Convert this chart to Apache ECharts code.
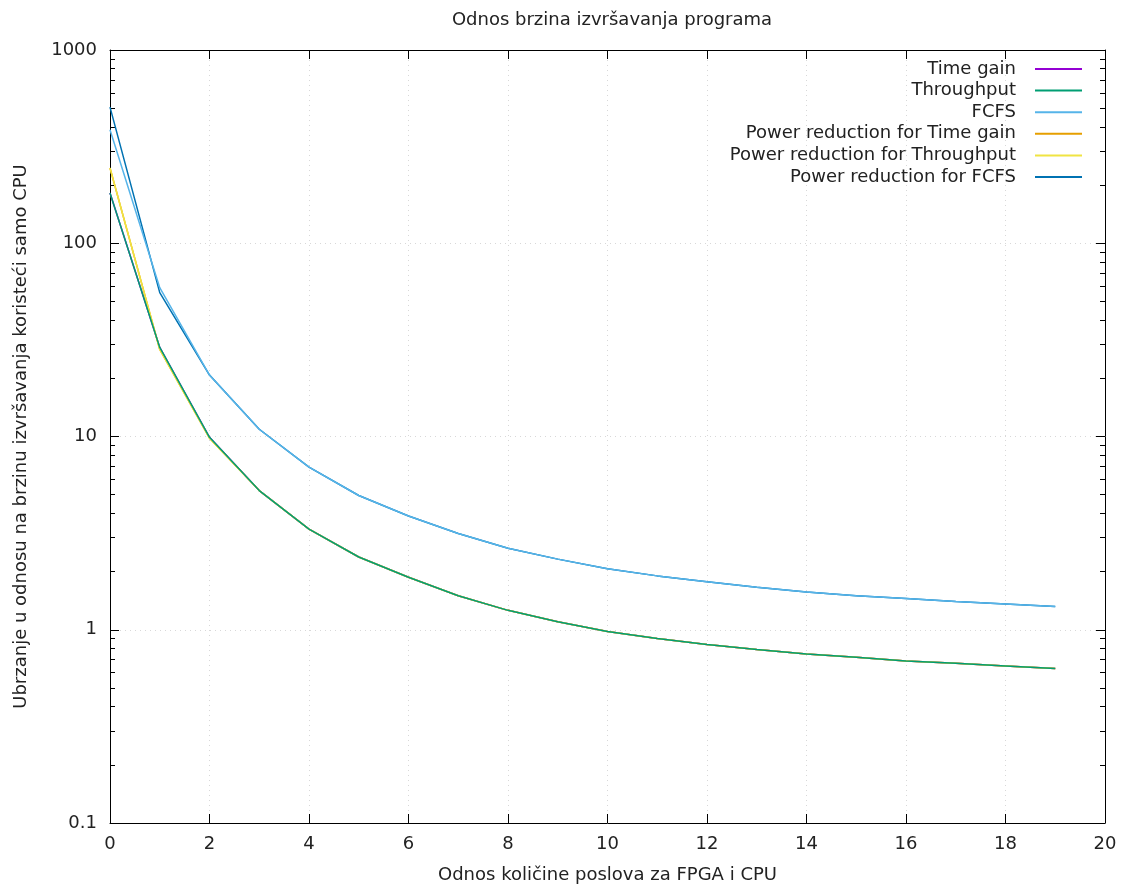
<!DOCTYPE html>
<html>
<head>
<meta charset="utf-8">
<script src="https://cdn.jsdelivr.net/npm/echarts@6/dist/echarts.min.js"></script>
<style>html,body{margin:0;padding:0;background:#fff}#c{width:1124px;height:889px}</style>
</head>
<body>
<div id="c"></div>
<script>
const xValues = [0,1,2,3,4,5,6,7,8,9,10,11,12,13,14,15,16,17,18,19];
const timeGain = [182,28.9,9.9,5.25,3.32,2.38,1.87,1.50,1.26,1.10,0.98,0.90,0.84,0.79,0.75,0.72,0.69,0.67,0.65,0.63];
const throughput = [182,28.9,9.9,5.25,3.32,2.38,1.87,1.50,1.26,1.10,0.98,0.90,0.84,0.79,0.75,0.72,0.69,0.67,0.65,0.63];
const fcfs = [387,58.9,20.8,10.9,6.95,4.95,3.88,3.15,2.64,2.32,2.07,1.90,1.77,1.66,1.57,1.50,1.45,1.40,1.36,1.32];
const prTimeGain = [245,28.2,9.8,5.25,3.32,2.38,1.87,1.50,1.26,1.10,0.98,0.90,0.84,0.79,0.75,0.72,0.69,0.67,0.65,0.63];
const prThroughput = [245,28.2,9.8,5.25,3.32,2.38,1.87,1.50,1.26,1.10,0.98,0.90,0.84,0.79,0.75,0.72,0.69,0.67,0.65,0.63];
const prFcfs = [506,55.5,20.8,10.9,6.95,4.95,3.88,3.15,2.64,2.32,2.07,1.90,1.77,1.66,1.57,1.50,1.45,1.40,1.36,1.32];
const seriesNames = ['Time gain','Throughput','FCFS','Power reduction for Time gain','Power reduction for Throughput','Power reduction for FCFS'];
const seriesColors = ['#9400d3','#009e73','#56b4e9','#e69f00','#f0e442','#0072b2'];
const seriesZ = [2,6,5,3,4,1];
const allSeries = [timeGain, throughput, fcfs, prTimeGain, prThroughput, prFcfs];

const FONT = 'DejaVu Sans';
const FS = 18;
const chart = echarts.init(document.getElementById('c'), null, {renderer:'canvas'});
const mkX = (pos, show) => ({
  type:'value', position:pos, min:0, max:20, interval:2,
  axisLine:{show:true, onZero:false, lineStyle:{color:'#000', width:1}},
  axisTick:{show:true, inside:true, length:9, lineStyle:{color:'#000'}},
  axisLabel:{show:show, color:'#222', fontFamily:FONT, fontSize:FS, margin:12},
  splitLine:{show:show, lineStyle:{color:'#d8d8d8', type:[1,4], width:1}},
  name: show ? 'Odnos količine poslova za FPGA i CPU' : '',
  nameLocation:'middle', nameGap:43,
  nameTextStyle:{color:'#222', fontFamily:FONT, fontSize:FS}
});
const mkY = (pos, show) => ({
  type:'log', logBase:10, position:pos, min:0.1, max:1000,
  axisLine:{show:true, onZero:false, lineStyle:{color:'#000', width:1}},
  axisTick:{show:true, inside:true, length:9, lineStyle:{color:'#000'}},
  minorTick:{show:true, splitNumber:9, length:5, lineStyle:{color:'#000'}},
  axisLabel:{show:show, color:'#222', fontFamily:FONT, fontSize:FS, margin:13,
    formatter: v => String(Number(v.toPrecision(6)))},
  splitLine:{show:show, lineStyle:{color:'#d8d8d8', type:[1,4], width:1}},
  name: show ? 'Ubrzanje u odnosu na brzinu izvršavanja koristeći samo CPU' : '',
  nameLocation:'middle', nameGap:80, nameRotate:90,
  nameTextStyle:{color:'#222', fontFamily:FONT, fontSize:FS}
});
chart.setOption({
  animation:false,
  backgroundColor:'#fff',
  title:{text:'Odnos brzina izvršavanja programa', left:607, textAlign:'center', top:6,
    textStyle:{color:'#222', fontFamily:FONT, fontSize:FS, fontWeight:'normal'}},
  grid:{left:110, right:19, top:50, bottom:64},
  legend:{
    orient:'vertical', right:37, top:55, align:'right',
    itemWidth:47, itemHeight:2, itemGap:3.6, icon:'rect',
    textStyle:{color:'#222', fontFamily:FONT, fontSize:FS, lineHeight:18, padding:[0,14,0,0]},
    data:seriesNames
  },
  xAxis:[mkX('bottom', true), mkX('top', false)],
  yAxis:[mkY('left', true), mkY('right', false)],
  series: allSeries.map((arr, i) => ({
    name: seriesNames[i], type:'line', xAxisIndex:0, yAxisIndex:0,
    data: xValues.map((x, j) => [x, arr[j]]),
    showSymbol:false, symbol:'none', z: seriesZ[i],
    lineStyle:{color:seriesColors[i], width:1.5},
    itemStyle:{color:seriesColors[i]}
  }))
});
</script>
</body>
</html>
